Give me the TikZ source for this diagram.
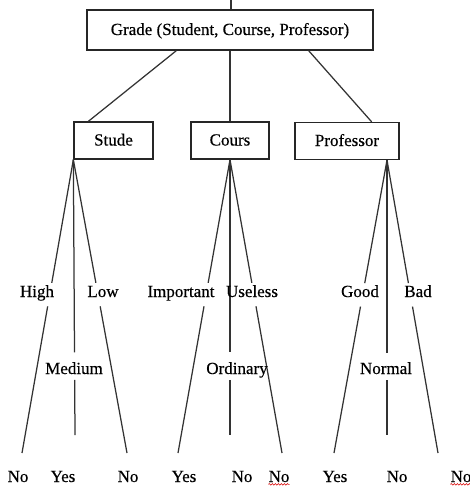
\documentclass[tikz,border=0pt]{standalone}
\usepackage{fontspec}
\setmainfont[FakeBold=0.4]{Liberation Serif}
\usetikzlibrary{calc,decorations.pathmorphing}
\newcommand\gapline[4]{\draw[edge] (#1) -- ($(#1)!#3!(#2)$) ($(#1)!#4!(#2)$) -- (#2);}
\begin{document}
\begin{tikzpicture}[x=1pt,y=-1pt,
  box/.style={draw=black!85, line width=1.3pt, fill=white, font=\fontsize{17}{20}\selectfont, inner sep=0pt, text height=12pt, text depth=2pt},
  lbl/.style={font=\fontsize{17}{20}\selectfont, inner sep=0pt, anchor=base},
  edge/.style={draw=black!80, line width=1.25pt},
  squig/.style={draw=red!85!black, line width=0.6pt, decorate, decoration={snake, amplitude=0.8pt, segment length=3pt}}]
\useasboundingbox (0,0) rectangle (470,487);
% boxes
\node[box, minimum width=286pt, minimum height=40pt] (grade) at (230,30) {Grade (Student, Course, Professor)};
\node[box, minimum width=79pt, minimum height=37pt] (stude) at (113.5,140.5) {Stude};
\node[box, minimum width=78pt, minimum height=37pt] (cours) at (230,140.5) {Cours};
\node[box, minimum width=104pt, minimum height=37pt] (prof) at (347,141) {Professor};
% top stub
\coordinate (top) at (231,0);
\draw[edge] (top) -- (top |- grade.north);
% edges from root
\draw[edge] ([xshift=90pt]grade.south west) -- ([xshift=15pt]stude.north west);
\draw[edge] (grade.south) -- (cours.north);
\draw[edge] ([xshift=-65pt]grade.south east) -- ([xshift=-28pt]prof.north east);
% apexes
\coordinate (sa) at (stude.south west);
\coordinate (ca) at (cours.south);
\coordinate (pa) at ([xshift=40pt]prof.south);
% ends
\coordinate (s1) at (22,453); \coordinate (s2) at (75,435); \coordinate (s3) at (127,453);
\coordinate (c1) at (178,453); \coordinate (c2) at (230,435); \coordinate (c3) at (282,453);
\coordinate (p1) at (334,453); \coordinate (p2) at (387,435); \coordinate (p3) at (438,453);
% branch lines
\gapline{sa}{s1}{0.42}{0.50}
\gapline{sa}{s2}{0.70}{0.80}
\gapline{sa}{s3}{0.42}{0.50}
\gapline{ca}{c1}{0.42}{0.50}
\gapline{ca}{c2}{0.70}{0.80}
\gapline{ca}{c3}{0.42}{0.50}
\gapline{pa}{p1}{0.42}{0.50}
\gapline{pa}{p2}{0.70}{0.80}
\gapline{pa}{p3}{0.42}{0.50}
% branch labels
\node[lbl] (high) at (37,297) {High};
\node[lbl] (low) at (103,297) {Low};
\node[lbl] (imp) at (181,297) {Important};
\node[lbl] (use) at (252,297) {Useless};
\node[lbl] (good) at (360,297) {Good};
\node[lbl] (bad) at (418,297) {Bad};
\node[lbl] (med) at (74,374) {Medium};
\node[lbl] (ord) at (237,374) {Ordinary};
\node[lbl] (norm) at (386,374) {Normal};
% leaves
\node[lbl] (l1) at (18,482) {No};
\node[lbl] (l2) at (63,482) {Yes};
\node[lbl] (l3) at (128,482) {No};
\node[lbl] (l4) at (184,482) {Yes};
\node[lbl] (l5) at (242,482) {No};
\node[lbl] (l6) at (279,482) {No};
\node[lbl] (l7) at (335,482) {Yes};
\node[lbl] (l8) at (397,482) {No};
\node[lbl] (l9) at (461,482) {No};
% spell-check marks
\draw[squig] ([yshift=-2pt]l6.south west) -- ([yshift=-2pt]l6.south east);
\draw[squig] ([yshift=-2pt]l9.south west) -- ([yshift=-2pt]l9.south east);
\end{tikzpicture}
\end{document}
